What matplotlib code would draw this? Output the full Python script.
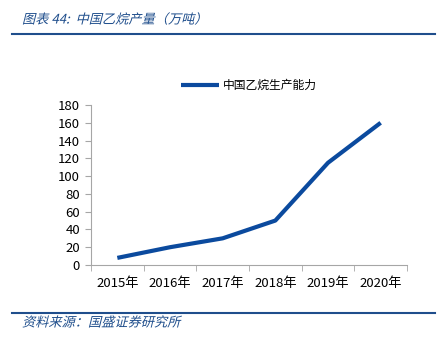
import matplotlib.pyplot as plt
from matplotlib.lines import Line2D
from matplotlib.patheffects import AbstractPathEffect
from matplotlib.transforms import Affine2D

plt.rcParams['font.family'] = ['Noto Sans CJK SC', 'DejaVu Sans']

years = ["2015年", "2016年", "2017年", "2018年", "2019年", "2020年"]
output = [8, 20, 30, 50, 115, 160]
series_name = "中国乙烷生产能力"


class Slant(AbstractPathEffect):
    """Fake oblique for fonts that ship no italic face."""

    def __init__(self, angle=14):
        super().__init__()
        self.skew = Affine2D().skew_deg(angle, 0)

    def draw_path(self, renderer, gc, tpath, affine, rgbFace=None):
        renderer.draw_path(gc, tpath, self.skew + affine, rgbFace)


W, H = 442, 346
fig = plt.figure(figsize=(W / 100, H / 100), dpi=100)

blue = "#0B4A9E"
dark_blue = "#1F4E8C"
gray = "#A6A6A6"

# header and footer
fig.text(22 / W, 1 - 20 / H, "图表 44:  中国乙烷产量（万吨）", fontsize=9.5,
         color=dark_blue, va="center", ha="left", path_effects=[Slant()])
fig.add_artist(Line2D([12 / W, 435 / W], [1 - 34 / H, 1 - 34 / H],
                      color=dark_blue, lw=1.5))
fig.add_artist(Line2D([12 / W, 435 / W], [1 - 313 / H, 1 - 313 / H],
                      color=dark_blue, lw=1.5))
fig.text(22 / W, 1 - 323 / H, "资料来源：国盛证券研究所", fontsize=9.5,
         color=dark_blue, va="center", ha="left", path_effects=[Slant()])

ax = fig.add_axes([91 / W, 1 - 265 / H, (407 - 91) / W, (265 - 105) / H])
x = range(len(years))
ax.plot(x, output, color=blue, lw=3, solid_capstyle="butt", label=series_name)

ax.set_xlim(-0.5, len(years) - 0.5)
ax.set_ylim(0, 180)
ax.set_yticks(range(0, 181, 20))
ax.set_xticks(x)
ax.set_xticklabels(years)
ax.set_xticks([i - 0.5 for i in range(len(years) + 1)], minor=True)
ax.tick_params(axis="x", which="major", length=0, pad=9, labelsize=9.5)
ax.tick_params(axis="x", which="minor", length=4, color=gray, direction="out")
ax.tick_params(axis="y", length=4, color=gray, labelsize=9.5, pad=4)

for s in ["top", "right"]:
    ax.spines[s].set_visible(False)
for s in ["left", "bottom"]:
    ax.spines[s].set_color(gray)

ax.legend(loc="center", bbox_to_anchor=(0.5, 1.12), frameon=False,
          fontsize=8.5, handlelength=3.2, handletextpad=0.3)

fig.savefig("out.png", dpi=100)
